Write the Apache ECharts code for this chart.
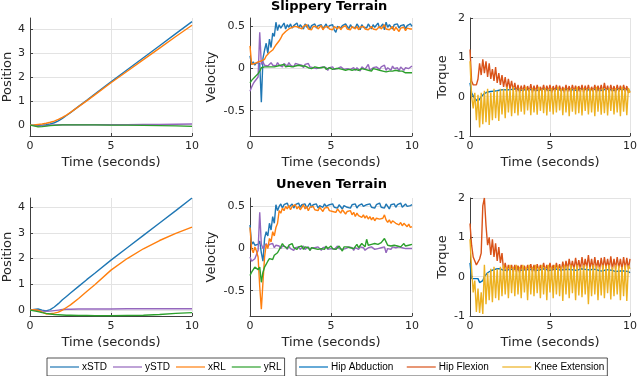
<!DOCTYPE html>
<html><head><meta charset="utf-8">
<script src="https://cdn.jsdelivr.net/npm/echarts@6/dist/echarts.min.js"></script>
<style>html,body{margin:0;padding:0;background:#fff}#c{width:640px;height:376px}</style>
</head><body><div id="c"></div>
<script>
// ---------- time samples ----------
const tPos = [0,0.25,0.5,0.75,1,1.25,1.5,1.75,2,2.25,2.5,3,3.5,4,5,6,7,8,9,10];
const tFine = [0,0.1,0.2,0.3,0.4,0.5,0.6,0.7,0.8,0.9,1,1.1,1.2,1.3,1.4,1.5,1.6,1.7,1.8,1.9,2,2.1,2.2,2.3,2.4,2.5,2.6,2.7,2.8,2.9,3,3.1,3.2,3.3,3.4,3.5,3.6,3.7,3.8,3.9,4,4.1,4.2,4.3,4.4,4.5,4.6,4.7,4.8,4.9,5,5.1,5.2,5.3,5.4,5.5,5.6,5.7,5.8,5.9,6,6.1,6.2,6.3,6.4,6.5,6.6,6.7,6.8,6.9,7,7.1,7.2,7.3,7.4,7.5,7.6,7.7,7.8,7.9,8,8.1,8.2,8.3,8.4,8.5,8.6,8.7,8.8,8.9,9,9.1,9.2,9.3,9.4,9.5,9.6,9.7,9.8,9.9,10];

// ---------- Slippery terrain: position ----------
const slipPosXSTD = [0,0,-0.01,0,0.02,0.05,0.1,0.18,0.28,0.4,0.52,0.78,1.03,1.29,1.8,2.3,2.8,3.3,3.8,4.3];
const slipPosYSTD = [0,-0.02,-0.05,-0.04,-0.02,0,0.01,0.02,0.02,0.02,0.02,0.02,0.02,0.02,0.02,0.02,0.03,0.03,0.04,0.05];
const slipPosXRL  = [0,0.01,0.03,0.05,0.08,0.12,0.17,0.24,0.32,0.42,0.53,0.77,1.01,1.26,1.76,2.24,2.72,3.2,3.68,4.15];
const slipPosYRL  = [0,-0.03,-0.07,-0.06,-0.04,-0.02,-0.01,0,0.01,0.01,0.01,0.01,0.01,0.01,0,0,-0.01,-0.02,-0.03,-0.05];

// ---------- Uneven terrain: position ----------
const unevPosXSTD = [0,0.02,0.04,0,-0.03,0.02,0.12,0.25,0.4,0.53,0.66,0.92,1.18,1.43,1.94,2.42,2.9,3.38,3.86,4.35];
const unevPosYSTD = [0,0,-0.02,-0.04,-0.05,-0.04,-0.02,0,0.02,0.03,0.03,0.04,0.04,0.04,0.04,0.05,0.05,0.05,0.05,0.05];
const unevPosXRL  = [0,0.01,0,-0.08,-0.15,-0.14,-0.12,-0.08,0,0.1,0.2,0.45,0.72,0.98,1.55,2.0,2.38,2.7,2.98,3.22];
const unevPosYRL  = [0,-0.03,-0.06,-0.1,-0.13,-0.15,-0.17,-0.18,-0.19,-0.2,-0.2,-0.21,-0.21,-0.22,-0.22,-0.21,-0.2,-0.17,-0.13,-0.1];

// ---------- Slippery terrain: velocity ----------
const slipVelXSTD = [0.15,0.05,0.08,0.04,0.07,0.05,0.06,-0.4,0.12,0.22,
 0.3,0.18,0.35,0.25,0.42,0.38,0.55,0.45,0.52,0.48,
 0.5,0.54,0.47,0.52,0.49,0.53,0.48,0.51,0.5,0.54,
 0.48,0.52,0.5,0.47,0.53,0.49,0.52,0.46,0.51,0.5,
 0.53,0.48,0.51,0.49,0.52,0.47,0.5,0.53,0.48,0.51,
 0.49,0.52,0.46,0.43,0.5,0.52,0.48,0.51,0.49,0.53,
 0.5,0.47,0.52,0.49,0.51,0.48,0.53,0.5,0.46,0.52,
 0.49,0.51,0.48,0.53,0.5,0.47,0.52,0.49,0.51,0.54,
 0.48,0.5,0.53,0.46,0.55,0.49,0.52,0.5,0.47,0.52,
 0.5,0.53,0.48,0.51,0.49,0.52,0.47,0.51,0.5,0.53,
 0.5];
const slipVelYSTD = [-0.27,-0.22,-0.18,-0.15,-0.13,-0.1,0.43,0.05,0.08,0.04,
 0.06,0.03,0.05,0.07,0.04,0.06,0.03,0.07,0.04,0.05,
 0.02,0.06,0.04,0.03,0.07,0.04,0.05,0.02,0.06,0.04,
 0.05,0.03,0.04,0.01,0.05,0.03,0.06,0.02,0.03,0.01,
 0.03,0,0.02,0.01,-0.01,0.02,0,0.01,-0.02,0.01,
 0,0.02,-0.01,0.01,0,-0.02,0.02,0,-0.01,0.01,
 0,0.02,-0.01,0,0.01,-0.02,0.01,0,-0.03,0.02,
 0,-0.01,0.01,0.05,-0.02,0,0.01,-0.01,0.02,0,
 -0.01,0.02,0,0.04,-0.02,0.01,0,-0.02,0.03,0,
 -0.01,0.01,-0.03,0.02,0,-0.02,0.01,-0.01,0,0.02,
 0.03];
const slipVelXRL = [0.27,0.05,0.04,0.06,0.05,0.08,0.07,0.09,0.08,0.11,
 0.15,0.14,0.19,0.18,0.22,0.24,0.28,0.3,0.33,0.36,
 0.4,0.41,0.44,0.45,0.47,0.46,0.49,0.47,0.5,0.48,
 0.49,0.51,0.47,0.5,0.48,0.52,0.47,0.49,0.46,0.5,
 0.48,0.5,0.47,0.49,0.51,0.46,0.49,0.48,0.5,0.47,
 0.49,0.46,0.5,0.48,0.47,0.5,0.46,0.49,0.48,0.51,
 0.47,0.49,0.46,0.5,0.48,0.47,0.5,0.46,0.49,0.47,
 0.5,0.47,0.49,0.46,0.48,0.5,0.47,0.49,0.46,0.48,
 0.5,0.47,0.49,0.52,0.47,0.49,0.46,0.48,0.5,0.45,
 0.49,0.47,0.44,0.48,0.46,0.49,0.45,0.48,0.46,0.47,
 0.47];
const slipVelYRL = [-0.17,-0.14,-0.12,-0.1,-0.08,-0.06,-0.03,0.01,0.02,0.02,
 0.03,0.02,0.03,0.02,0.03,0.02,0.04,0.03,0.02,0.04,
 0.03,0.05,0.02,0.04,0.03,0.05,0.02,0.04,0.03,0.02,
 0.04,0.02,0.03,0.01,0.03,0.02,0.01,0.02,0,0.01,
 0.02,0,0.01,-0.01,0.01,0,0.02,-0.01,0,0.01,
 0,-0.01,0.01,0,-0.02,0,0.01,-0.01,0,-0.02,
 0,-0.01,0.01,-0.02,0,-0.01,0,-0.02,-0.01,0,
 -0.02,-0.01,0,-0.02,-0.01,-0.03,0,-0.02,-0.01,-0.03,
 -0.02,-0.01,-0.03,-0.02,-0.04,-0.02,-0.03,-0.01,-0.03,-0.04,
 -0.02,-0.04,-0.03,-0.05,-0.03,-0.04,-0.05,-0.03,-0.05,-0.04,
 -0.05];

// ---------- Uneven terrain: velocity ----------
const unevVelXSTD = [0.28,0.05,0.08,0.04,0.06,0.05,0.09,-0.05,-0.15,0.12,
 0.2,0.15,0.3,0.22,0.38,0.3,0.52,0.45,0.5,0.53,
 0.48,0.52,0.5,0.54,0.49,0.51,0.53,0.48,0.52,0.5,
 0.54,0.49,0.52,0.5,0.53,0.48,0.51,0.54,0.49,0.52,
 0.5,0.53,0.48,0.51,0.52,0.49,0.53,0.5,0.48,0.52,
 0.5,0.53,0.49,0.51,0.48,0.52,0.5,0.47,0.51,0.53,
 0.49,0.51,0.48,0.52,0.5,0.53,0.48,0.51,0.49,0.53,
 0.5,0.48,0.52,0.5,0.53,0.49,0.51,0.48,0.52,0.5,
 0.54,0.49,0.51,0.48,0.53,0.5,0.47,0.52,0.5,0.53,
 0.49,0.52,0.5,0.54,0.49,0.51,0.53,0.5,0.52,0.51,
 0.52];
const unevVelYSTD = [-0.1,-0.15,-0.13,-0.12,-0.1,-0.02,0.43,0.05,0,0.03,
 0.06,0.02,0.05,0.03,0.06,0.01,0.04,0.02,0.03,0,
 0.03,0.01,0.02,-0.01,0.03,0,0.02,-0.02,0.01,0,
 0.02,-0.01,0.01,0.03,-0.01,0,0.02,-0.02,0.01,0,
 0.01,-0.01,0.02,0,-0.02,0.01,0,0.02,-0.01,0.01,
 0,0.02,-0.01,0.01,0.03,0,0.02,-0.01,0.01,0,
 -0.01,0.02,0,0.01,-0.02,0.01,0,-0.01,0.02,0,
 0.01,-0.02,0,0.01,-0.01,0.02,0,-0.01,0.01,0,
 -0.02,0.01,0,0.02,-0.05,0,0.01,-0.01,0.02,0,
 0.01,-0.01,0.02,0,0.01,-0.01,0,0.02,0,-0.01,
 0];
const unevVelXRL = [0.25,0,-0.05,0.02,-0.03,-0.1,-0.45,-0.72,-0.4,-0.1,
 0.05,0,0.12,0.08,0.2,0.15,0.25,0.3,0.45,0.42,
 0.48,0.45,0.5,0.47,0.51,0.46,0.5,0.48,0.52,0.47,
 0.5,0.46,0.49,0.52,0.47,0.5,0.45,0.49,0.47,0.5,
 0.46,0.48,0.45,0.49,0.47,0.44,0.48,0.46,0.49,0.45,
 0.47,0.44,0.46,0.43,0.47,0.45,0.42,0.46,0.44,0.41,
 0.44,0.42,0.45,0.4,0.43,0.38,0.42,0.39,0.41,0.37,
 0.4,0.36,0.39,0.35,0.38,0.34,0.37,0.33,0.36,0.34,
 0.35,0.33,0.36,0.4,0.34,0.31,0.34,0.3,0.33,0.31,
 0.3,0.32,0.28,0.31,0.27,0.3,0.28,0.26,0.29,0.25,
 0.26];
const unevVelYRL = [-0.32,-0.28,-0.25,-0.22,-0.2,-0.25,-0.22,-0.4,-0.28,-0.22,
 -0.2,-0.15,-0.12,-0.1,-0.13,-0.08,-0.1,-0.05,-0.07,0.02,
 0.06,0.03,0.05,0,0.04,0.02,0.06,0.01,0.03,-0.01,
 0.02,0,0.03,-0.01,0.02,0,0.01,-0.02,0.01,0.03,
 0,0.02,-0.01,0.01,0,0.02,-0.01,0.03,0,0.01,
 0.03,0,0.02,-0.01,0.01,0.03,0,-0.03,0.02,0,
 0.02,0.04,0.01,0.03,0,0.02,0.05,0.01,0.03,0.06,
 0.04,0.02,0.11,0.04,0.02,0.05,0.03,0.06,0.04,0.05,
 0.03,0.07,0.05,0.12,0.08,0.04,0.06,0.03,0.05,0.04,
 0.06,0.03,0.05,0.02,0.04,0.06,0.03,0.05,0.04,0.06,
 0.05];

// ---------- Slippery terrain: torque ----------
const slipTqHipAbd = [0.35,0.1,0.02,-0.05,-0.1,-0.12,-0.08,0,0.05,0.08,
 0.1,0.12,0.1,0.13,0.15,0.14,0.16,0.15,0.18,0.17,
 0.2,0.18,0.19,0.17,0.2,0.18,0.16,0.19,0.17,0.2,
 0.18,0.16,0.19,0.17,0.2,0.18,0.17,0.19,0.16,0.18,
 0.19,0.17,0.2,0.16,0.18,0.19,0.17,0.2,0.18,0.16,
 0.19,0.17,0.18,0.2,0.16,0.18,0.19,0.17,0.2,0.18,
 0.16,0.19,0.17,0.18,0.2,0.17,0.19,0.16,0.18,0.2,
 0.17,0.19,0.16,0.18,0.2,0.17,0.18,0.19,0.16,0.18,
 0.2,0.17,0.19,0.16,0.18,0.2,0.17,0.19,0.18,0.16,
 0.19,0.17,0.18,0.2,0.16,0.18,0.17,0.19,0.16,0.17,
 0.15];
const slipTqHipFlex = [1.2,0.4,0.3,0.35,0.3,0.45,0.85,0.55,0.95,0.6,
 0.9,0.5,0.85,0.45,0.7,0.4,0.75,0.35,0.6,0.3,
 0.55,0.25,0.5,0.2,0.45,0.2,0.4,0.15,0.35,0.12,
 0.3,0.1,0.28,0.12,0.3,0.1,0.27,0.12,0.32,0.1,
 0.28,0.12,0.3,0.1,0.25,0.12,0.3,0.1,0.28,0.13,
 0.3,0.1,0.27,0.12,0.3,0.1,0.28,0.12,0.25,0.1,
 0.3,0.12,0.27,0.1,0.3,0.13,0.28,0.1,0.27,0.12,
 0.3,0.1,0.28,0.12,0.3,0.1,0.25,0.12,0.3,0.1,
 0.28,0.12,0.3,0.1,0.35,0.12,0.28,0.1,0.3,0.12,
 0.27,0.1,0.3,0.12,0.28,0.1,0.3,0.12,0.27,0.1,
 0.15];
const slipTqKneeExt = [0.9,0,-0.3,0.1,-0.6,0.05,-0.78,0.1,-0.7,0.15,
 -0.65,0.2,-0.72,0.1,-0.6,0.2,-0.55,0.15,-0.62,0.2,
 -0.45,0.2,-0.55,0.25,-0.4,0.2,-0.5,0.25,-0.42,0.2,
 -0.48,0.22,-0.38,0.2,-0.45,0.25,-0.35,0.2,-0.47,0.22,
 -0.4,0.2,-0.46,0.25,-0.36,0.2,-0.42,0.22,-0.48,0.2,
 -0.38,0.22,-0.45,0.2,-0.4,0.25,-0.35,0.2,-0.47,0.22,
 -0.4,0.2,-0.5,0.22,-0.38,0.2,-0.45,0.25,-0.42,0.2,
 -0.48,0.22,-0.36,0.2,-0.45,0.22,-0.4,0.2,-0.5,0.25,
 -0.38,0.2,-0.46,0.22,-0.42,0.2,-0.48,0.22,-0.36,0.2,
 -0.45,0.22,-0.4,0.2,-0.5,0.25,-0.38,0.2,-0.47,0.22,
 0.1];

// ---------- Uneven terrain: torque ----------
const unevTqHipAbd = [0.35,-0.05,-0.08,-0.05,-0.1,-0.05,-0.15,-0.2,-0.1,0,
 0.05,0.1,0.08,0.15,0.12,0.18,0.15,0.2,0.17,0.2,
 0.18,0.16,0.19,0.17,0.2,0.18,0.16,0.19,0.17,0.2,
 0.18,0.16,0.19,0.17,0.2,0.18,0.17,0.19,0.16,0.18,
 0.19,0.17,0.2,0.16,0.18,0.19,0.17,0.2,0.18,0.16,
 0.19,0.17,0.18,0.2,0.16,0.18,0.19,0.17,0.2,0.18,
 0.16,0.19,0.17,0.18,0.2,0.17,0.19,0.16,0.18,0.2,
 0.17,0.19,0.16,0.18,0.2,0.17,0.18,0.19,0.16,0.18,
 0.17,0.15,0.18,0.14,0.16,0.18,0.15,0.17,0.14,0.16,
 0.15,0.13,0.16,0.14,0.12,0.15,0.13,0.14,0.12,0.13,
 0.1];
const unevTqHipFlex = [1.35,0.8,0.5,0.4,0.3,0.25,0.45,0.6,1.8,2.0,
 1.3,0.8,1.0,0.55,0.95,0.5,0.85,0.4,0.75,0.35,
 0.6,0.15,0.35,0.1,0.3,0.15,0.3,0.1,0.3,0.12,
 0.28,0.1,0.3,0.12,0.28,0.1,0.3,0.15,0.32,0.12,
 0.3,0.1,0.32,0.15,0.3,0.12,0.35,0.15,0.3,0.12,
 0.35,0.15,0.3,0.12,0.35,0.15,0.32,0.12,0.38,0.15,
 0.4,0.18,0.45,0.2,0.4,0.18,0.48,0.2,0.42,0.18,
 0.5,0.2,0.45,0.22,0.55,0.2,0.45,0.18,0.5,0.2,
 0.42,0.18,0.48,0.2,0.5,0.22,0.45,0.2,0.52,0.18,
 0.45,0.2,0.5,0.22,0.45,0.18,0.5,0.2,0.48,0.2,
 0.45];
const unevTqKneeExt = [0.95,0.2,-0.4,-0.1,-0.9,-0.3,-0.92,-0.4,-0.95,0.3,
 -0.7,0.1,-0.6,0.2,-0.65,0.25,-0.55,0.2,-0.6,0.25,
 -0.5,0.3,-0.45,0.25,-0.55,0.3,-0.42,0.25,-0.5,0.3,
 -0.45,0.25,-0.55,0.3,-0.4,0.25,-0.6,0.3,-0.45,0.25,
 -0.5,0.3,-0.42,0.25,-0.55,0.3,-0.45,0.25,-0.6,0.3,
 -0.4,0.25,-0.55,0.3,-0.45,0.28,-0.5,0.25,-0.62,0.3,
 -0.45,0.28,-0.55,0.3,-0.42,0.25,-0.6,0.3,-0.48,0.25,
 -0.52,0.3,-0.45,0.28,-0.7,0.25,-0.5,0.3,-0.45,0.28,
 -0.6,0.25,-0.48,0.3,-0.55,0.28,-0.42,0.3,-0.58,0.25,
 -0.5,0.3,-0.45,0.28,-0.6,0.25,-0.5,0.3,-0.62,0.28,
 0.2];

// ---------- labels / ticks ----------
const titles = ['Slippery Terrain', 'Uneven Terrain'];
const yNames = ['Position', 'Velocity', 'Torque'];
const xName = 'Time (seconds)';
const posTicks = [0, 1, 2, 3, 4];
const velTicks = [-0.5, 0, 0.5];
const legendLeft = ['xSTD', 'ySTD', 'xRL', 'yRL'];
const legendRight = ['Hip Abduction', 'Hip Flexion', 'Knee Extension'];

// ---------- styling / layout ----------
const FONT = '"DejaVu Sans", sans-serif';
const AX = '#404040';
const GRIDC = '#e3e3e3';
const colL = ['#1f77b4', '#9467bd', '#ff7f0e', '#2ca02c'];
const colR = ['#0072BD', '#D95319', '#EDB120'];
const cols = [{left: 29, width: 163}, {left: 250, width: 162}, {left: 470, width: 162}];
const rows = [{top: 18}, {top: 198}];
const H = 118;
const yRanges = [
  [[-0.45, 4.45], [-0.8, 0.6], [-1, 2]],
  [[-0.23, 4.35], [-0.8, 0.6], [-1, 2]]
];
const nameGaps = [16, 32, 21];

const grid = [], xAxis = [], yAxis = [], series = [];
rows.forEach((r, ri) => cols.forEach((c, ci) => {
  const idx = ri * 3 + ci;
  grid.push({left: c.left, top: r.top, width: c.width, height: H, containLabel: false});
  xAxis.push({
    type: 'value', gridIndex: idx, min: 0, max: 10, interval: 5,
    name: xName, nameLocation: 'middle', nameGap: 20,
    nameTextStyle: {fontFamily: FONT, fontSize: 13, color: '#262626'},
    axisLine: {show: true, onZero: false, lineStyle: {color: AX, width: 1}},
    axisTick: {show: true, inside: true, length: 3, lineStyle: {color: AX}},
    axisLabel: {fontFamily: FONT, fontSize: 11, color: '#262626', margin: 5},
    splitLine: {show: true, lineStyle: {color: GRIDC, width: 1}}
  });
  const [mn, mx] = yRanges[ri][ci];
  const y = {
    type: 'value', gridIndex: idx, min: mn, max: mx,
    name: yNames[ci], nameLocation: 'middle', nameGap: nameGaps[ci], nameRotate: 90,
    nameTextStyle: {fontFamily: FONT, fontSize: 13, color: '#262626'},
    axisLine: {show: true, onZero: false, lineStyle: {color: AX, width: 1}},
    axisTick: {show: true, inside: true, length: 3, lineStyle: {color: AX}},
    axisLabel: {fontFamily: FONT, fontSize: 11, color: '#262626', margin: 5, showMinLabel: true, showMaxLabel: true},
    splitLine: {show: true, lineStyle: {color: GRIDC, width: 1}}
  };
  if (ci === 2) { y.interval = 1; }
  else {
    const tv = ci === 0 ? posTicks : velTicks;
    y.axisTick.customValues = tv;
    y.axisLabel.customValues = tv;
  }
  yAxis.push(y);
}));

function addLine(idx, name, color, t, v) {
  series.push({
    type: 'line', name, xAxisIndex: idx, yAxisIndex: idx,
    data: t.map((tt, i) => [tt, v[i]]),
    symbol: 'none', showSymbol: false, lineStyle: {color, width: 1.4}, itemStyle: {color},
    clip: true, silent: true
  });
}
const posSets = [[slipPosXSTD, slipPosYSTD, slipPosXRL, slipPosYRL], [unevPosXSTD, unevPosYSTD, unevPosXRL, unevPosYRL]];
const velSets = [[slipVelXSTD, slipVelYSTD, slipVelXRL, slipVelYRL], [unevVelXSTD, unevVelYSTD, unevVelXRL, unevVelYRL]];
const tqSets = [[slipTqHipAbd, slipTqHipFlex, slipTqKneeExt], [unevTqHipAbd, unevTqHipFlex, unevTqKneeExt]];
[0, 1].forEach(ri => {
  legendLeft.forEach((n, k) => addLine(ri * 3, n, colL[k], tPos, posSets[ri][k]));
  legendLeft.forEach((n, k) => addLine(ri * 3 + 1, n, colL[k], tFine, velSets[ri][k]));
  legendRight.forEach((n, k) => addLine(ri * 3 + 2, n, colR[k], tFine, tqSets[ri][k]));
});

const legBase = {
  orient: 'horizontal', top: 358, padding: [3, 3, 3, 3], icon: 'rect', itemWidth: 29, itemHeight: 1.2,
  borderColor: '#262626', borderWidth: 0.8, backgroundColor: '#fff',
  textStyle: {fontFamily: '"Liberation Sans", Arial, sans-serif', fontSize: 10, color: '#000', padding: [0,0,0,-2], lineHeight: 12},
  selectedMode: false
};

const option = {
  animation: false,
  backgroundColor: '#fff',
  grid, xAxis, yAxis, series,
  legend: [
    Object.assign({}, legBase, {left: 47, itemGap: 6, data: legendLeft}),
    Object.assign({}, legBase, {left: 296, itemGap: 13.5, data: legendRight})
  ],
  graphic: [
    {type: 'text', left: 331 - 60, top: 0, style: {text: titles[0], font: 'bold 13px "DejaVu Sans"', fill: '#000'}},
    {type: 'text', left: 331 - 55, top: 178, style: {text: titles[1], font: 'bold 13px "DejaVu Sans"', fill: '#000'}}
  ]
};
const chart = echarts.init(document.getElementById('c'), null, {renderer: 'canvas'});
chart.setOption(option);
</script></body></html>
